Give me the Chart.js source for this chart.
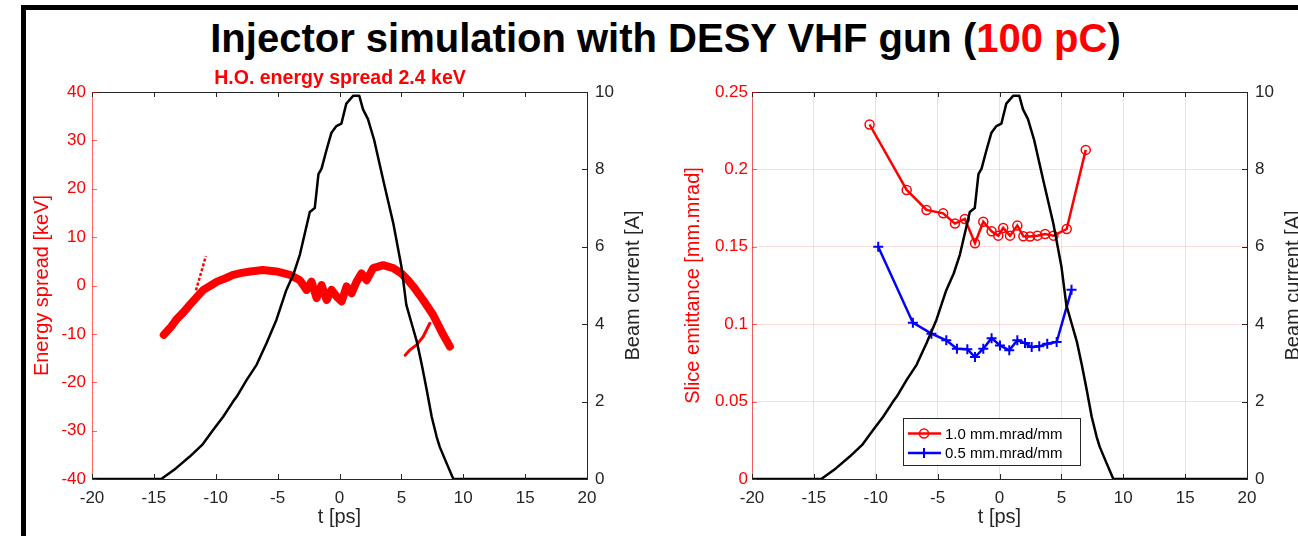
<!DOCTYPE html>
<html>
<head>
<meta charset="utf-8">
<title>Injector simulation with DESY VHF gun</title>
<script src="https://cdn.jsdelivr.net/npm/chart.js@4.4.0/dist/chart.umd.min.js"></script>
<style>
  body { margin: 0; width: 1298px; height: 536px; overflow: hidden; background: #fff; position: relative; }
  #frame { position: absolute; left: 21px; top: 5px; width: 1300px; height: 560px; border-left: 5px solid #000; border-top: 5px solid #000; }
  #title { position: absolute; left: 0; top: 18px; width: 1331px; text-align: center; font: bold 40px "Liberation Sans", Arial, sans-serif; line-height: 40px; color: #000; }
  #title .red { color: #ff0000; }
  canvas { position: absolute; }
  #left { left: 28px; top: 60px; }
  #right { left: 672px; top: 60px; }
</style>
</head>
<body>
<div id="frame"></div>
<div id="title">Injector simulation with DESY VHF gun (<span class="red">100 pC</span>)</div>
<canvas id="left" width="624" height="476"></canvas>
<canvas id="right" width="640" height="476"></canvas>
<script>
// beam current (same curve in both panels)
const currentT = [-20, -14.4, -13.2, -12.1, -11.1, -10.2, -9.4, -8.6, -8.3, -7.5, -6.7, -5.9, -5.1, -4.3, -3.7, -3.2, -2.8, -2.4, -2.0, -1.7, -1.45, -1.05, -0.65, -0.25, 0.15, 0.55, 1.1, 1.6, 1.9, 2.3, 2.8, 3.55, 4.35, 5.0, 5.4, 5.8, 6.25, 6.65, 7.05, 7.45, 7.85, 8.1, 8.65, 9.2, 20];
const currentA = [0, 0, 0.28, 0.58, 0.88, 1.27, 1.61, 2.0, 2.13, 2.56, 2.95, 3.51, 4.11, 4.88, 5.31, 5.8, 6.35, 6.9, 7.0, 7.88, 8.02, 8.5, 8.95, 9.12, 9.18, 9.7, 9.9, 9.9, 9.55, 9.3, 8.76, 7.7, 6.6, 5.5, 4.5, 4.05, 3.55, 2.95, 2.3, 1.61, 1.09, 0.83, 0.41, 0, 0];

// energy spread band (centre of the particle cloud) and its two thin tails
const bandT = [-14.2, -13.6, -13.2, -12.6, -12.1, -11.5, -11.0, -10.4, -9.9, -9.2, -8.6, -7.9, -7.2, -6.2, -5.1, -4.0, -3.2, -2.66, -2.26, -1.85, -1.45, -1.04, -0.64, -0.23, 0.17, 0.57, 0.98, 1.38, 1.78, 2.19, 2.72, 3.53, 4.34, 5.0, 5.5, 5.96, 6.76, 7.57, 8.38, 8.92];
const bandE = [-10.2, -8.5, -7.1, -5.5, -4.0, -2.3, -0.9, 0.0, 0.8, 1.5, 2.2, 2.6, 2.9, 3.2, 2.9, 2.2, 1.1, -0.9, 0.8, -2.6, 0.1, -3.0, -0.9, -2.3, -3.3, -0.2, -1.6, 0.8, 2.5, 1.1, 3.6, 4.2, 3.6, 2.5, 1.2, -0.2, -3.0, -6.1, -10.2, -12.6];
const tailAT = [-11.6, -11.2, -10.8];
const tailAE = [-1.0, 2.5, 6.1];
const tailBT = [7.3, 6.76, 6.23, 5.7, 5.3];
const tailBE = [-7.8, -10.6, -12.3, -13.3, -14.4];

// slice emittance
const emit10T = [-10.5, -7.5, -5.9, -4.55, -3.6, -2.8, -1.98, -1.31, -0.64, -0.1, 0.3, 0.85, 1.44, 1.93, 2.47, 3.06, 3.68, 4.36, 5.43, 6.97];
const emit10 = [0.229, 0.1867, 0.1738, 0.1716, 0.165, 0.168, 0.1523, 0.1662, 0.160, 0.1572, 0.1622, 0.1572, 0.1637, 0.1568, 0.1566, 0.1572, 0.1583, 0.1572, 0.1615, 0.2126];
const emit05T = [-9.8, -7.0, -5.5, -4.3, -3.44, -2.6, -1.98, -1.31, -0.64, 0.04, 0.79, 1.44, 2.06, 2.6, 3.21, 3.86, 4.62, 5.82];
const emit05 = [0.150, 0.101, 0.0939, 0.0896, 0.0842, 0.0838, 0.0788, 0.0842, 0.091, 0.0863, 0.0831, 0.0896, 0.0878, 0.0852, 0.0857, 0.0874, 0.0885, 0.1222];

// ticks
const tTicks = [-20, -15, -10, -5, 0, 5, 10, 15, 20];
const spreadTicks = [-40, -30, -20, -10, 0, 10, 20, 30, 40];
const currentTicks = [0, 2, 4, 6, 8, 10];
const emitTicks = [0, 0.05, 0.1, 0.15, 0.2, 0.25];

const FONT = '"Liberation Sans", Arial, Helvetica, sans-serif';
const AXIS = '#262626';
Chart.defaults.font.family = FONT;
Chart.defaults.color = AXIS;

const pts = (xs, ys) => xs.map((x, i) => ({ x: x, y: ys[i] }));
const fixTicks = (arr) => (scale) => { scale.ticks = arr.map(v => ({ value: v })); };

// MATLAB look: box on top, inward ticks, right label reading upwards
const matlabAxes = {
  id: 'matlabAxes',
  afterDraw(chart, args, opts) {
    const { ctx, chartArea: a, scales } = chart;
    const seg = (x1, y1, x2, y2) => { ctx.beginPath(); ctx.moveTo(x1, y1); ctx.lineTo(x2, y2); ctx.stroke(); };
    ctx.save();
    ctx.lineWidth = 1;
    ctx.strokeStyle = AXIS;
    seg(a.left, a.top + 0.5, a.right, a.top + 0.5);
    scales.x.ticks.forEach(t => {
      const px = Math.round(scales.x.getPixelForValue(t.value)) + 0.5;
      seg(px, a.bottom, px, a.bottom - 5);
      seg(px, a.top, px, a.top + 5);
    });
    scales.y2.ticks.forEach(t => {
      const py = Math.round(scales.y2.getPixelForValue(t.value)) + 0.5;
      seg(a.right, py, a.right - 5, py);
    });
    ctx.strokeStyle = 'rgba(255,0,0,0.6)';
    scales.y.ticks.forEach(t => {
      const py = Math.round(scales.y.getPixelForValue(t.value)) + 0.5;
      seg(a.left, py, a.left + 5, py);
    });
    ctx.translate(scales.y2.right - 19, (a.top + a.bottom) / 2);
    ctx.rotate(-Math.PI / 2);
    ctx.font = '20px ' + FONT;
    ctx.fillStyle = AXIS;
    ctx.textAlign = 'center';
    ctx.textBaseline = 'middle';
    ctx.fillText(opts.rightTitle, 0, 0);
    ctx.restore();
  }
};

// legend box inside the plot area (right panel)
const boxLegend = {
  id: 'boxLegend',
  afterDraw(chart, args, opts) {
    if (!opts.items) return;
    const { ctx, chartArea: a } = chart;
    const x = a.left + opts.dx, y = a.top + opts.dy;
    ctx.save();
    ctx.fillStyle = '#fff';
    ctx.fillRect(x, y, opts.w, opts.h);
    ctx.strokeStyle = AXIS;
    ctx.lineWidth = 1;
    ctx.strokeRect(x + 0.5, y + 0.5, opts.w, opts.h);
    opts.items.forEach((idx, k) => {
      const ds = chart.data.datasets[idx];
      const cy = y + 15.5 + k * 19.5;
      const mx = x + 21;
      ctx.strokeStyle = ds.borderColor;
      ctx.lineWidth = ds.borderWidth;
      ctx.beginPath(); ctx.moveTo(x + 5, cy); ctx.lineTo(x + 38, cy); ctx.stroke();
      ctx.lineWidth = ds.pointBorderWidth;
      ctx.beginPath();
      if (ds.pointStyle === 'circle') {
        ctx.arc(mx, cy, ds.pointRadius, 0, Math.PI * 2);
      } else {
        ctx.moveTo(mx - ds.pointRadius, cy); ctx.lineTo(mx + ds.pointRadius, cy);
        ctx.moveTo(mx, cy - ds.pointRadius); ctx.lineTo(mx, cy + ds.pointRadius);
      }
      ctx.stroke();
      ctx.fillStyle = '#000';
      ctx.font = '15px ' + FONT;
      ctx.textAlign = 'left';
      ctx.textBaseline = 'middle';
      ctx.fillText(ds.label, x + 42, cy + 1);
    });
    ctx.restore();
  }
};

const currentSet = {
  label: 'Beam current',
  data: pts(currentT, currentA),
  yAxisID: 'y2',
  borderColor: '#000',
  borderWidth: 2.5,
  pointRadius: 0,
  borderJoinStyle: 'round'
};

const xScale = (grid) => ({
  type: 'linear',
  min: -20, max: 20,
  afterBuildTicks: fixTicks(tTicks),
  afterFit: (s) => { s.height = 57; },
  ticks: { font: { size: 17 }, color: AXIS, padding: 9, callback: v => String(v) },
  grid: grid,
  border: { color: AXIS, width: 1 },
  title: { display: true, text: 't [ps]', color: AXIS, font: { size: 20 }, padding: { top: 0, bottom: 7 } }
});

const rightScale = {
  position: 'right',
  min: 0, max: 10,
  afterBuildTicks: fixTicks(currentTicks),
  afterFit: (s) => { s.width = 65; },
  ticks: { font: { size: 17 }, color: AXIS, padding: 8, callback: v => String(v) },
  grid: { display: false, drawTicks: false },
  border: { color: AXIS, width: 1 }
};

new Chart(document.getElementById('left'), {
  type: 'line',
  data: {
    datasets: [
      currentSet,
      { label: 'tail a', data: pts(tailAT, tailAE), yAxisID: 'y', borderColor: '#ff0000', borderWidth: 2.5, borderDash: [3, 2], pointRadius: 0 },
      { label: 'tail b', data: pts(tailBT, tailBE), yAxisID: 'y', borderColor: '#ff0000', borderWidth: 3, pointRadius: 0, borderCapStyle: 'round' },
      { label: 'Energy spread', data: pts(bandT, bandE), yAxisID: 'y', borderColor: '#ff0000', borderWidth: 8, pointRadius: 0, borderJoinStyle: 'round', borderCapStyle: 'round' }
    ]
  },
  options: {
    responsive: false, animation: false, devicePixelRatio: 1, events: [],
    plugins: {
      legend: { display: false },
      tooltip: { enabled: false },
      title: { display: true, text: 'H.O. energy spread 2.4 keV', color: '#ff0000', font: { size: 19.5, weight: 'bold' }, padding: { top: 6.6, bottom: 2 } },
      matlabAxes: { rightTitle: 'Beam current [A]' }
    },
    scales: {
      x: xScale({ display: false, drawTicks: false }),
      y: {
        position: 'left',
        min: -40, max: 40,
        afterBuildTicks: fixTicks(spreadTicks),
        afterFit: (s) => { s.width = 64; },
        ticks: { font: { size: 17 }, color: '#ff0000', padding: 6, callback: v => String(v) },
        grid: { display: false, drawTicks: false },
        border: { color: 'rgba(255,0,0,0.6)', width: 1 },
        title: { display: true, text: 'Energy spread [keV]', color: '#ff0000', font: { size: 20 }, padding: { top: 2.5, bottom: 0 } }
      },
      y2: rightScale
    }
  },
  plugins: [matlabAxes]
});

new Chart(document.getElementById('right'), {
  type: 'line',
  data: {
    datasets: [
      currentSet,
      { label: '0.5 mm.mrad/mm', data: pts(emit05T, emit05), yAxisID: 'y', borderColor: '#0000ff', borderWidth: 2.5,
        pointStyle: 'cross', pointRadius: 5, pointBorderWidth: 2, pointBorderColor: '#0000ff' },
      { label: '1.0 mm.mrad/mm', data: pts(emit10T, emit10), yAxisID: 'y', borderColor: '#ff0000', borderWidth: 2.5,
        pointStyle: 'circle', pointRadius: 4.5, pointBorderWidth: 1.5, pointBorderColor: '#ff0000', pointBackgroundColor: 'rgba(0,0,0,0)' }
    ]
  },
  options: {
    responsive: false, animation: false, devicePixelRatio: 1, events: [],
    layout: { padding: { top: 32 } },
    plugins: {
      legend: { display: false },
      tooltip: { enabled: false },
      matlabAxes: { rightTitle: 'Beam current [A]' },
      boxLegend: { items: [2, 1], dx: 151, dy: 326, w: 177, h: 47 }
    },
    scales: {
      x: xScale({ display: true, drawTicks: false, color: '#e4e4e4', lineWidth: 1 }),
      y: {
        position: 'left',
        min: 0, max: 0.25,
        afterBuildTicks: fixTicks(emitTicks),
        afterFit: (s) => { s.width = 80; },
        ticks: { font: { size: 17 }, color: '#ff0000', padding: 4, callback: v => String(v) },
        grid: { display: true, drawTicks: false, color: 'rgba(255,0,0,0.13)', lineWidth: 1 },
        border: { color: 'rgba(255,0,0,0.6)', width: 1 },
        title: { display: true, text: 'Slice emittance [mm.mrad]', color: '#ff0000', font: { size: 20 }, padding: { top: 9, bottom: 0 } }
      },
      y2: rightScale
    }
  },
  plugins: [matlabAxes, boxLegend]
});
</script>
</body>
</html>
